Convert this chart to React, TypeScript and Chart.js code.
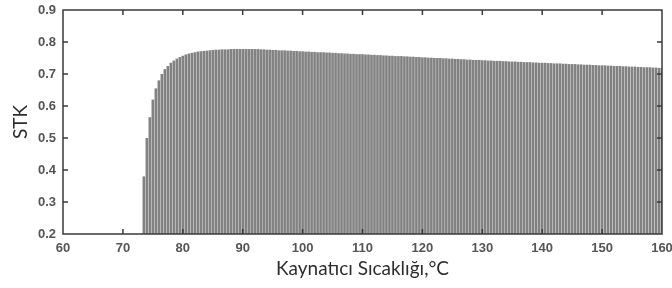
import React, { useEffect, useRef } from "react";
import { Chart, registerables } from "chart.js";

Chart.register(...registerables);

const temps: number[] = [
  73.5, 74, 74.5, 75, 75.5, 76, 76.5, 77, 77.5, 78, 78.5, 79, 79.5, 80, 80.5, 81, 81.5, 82, 82.5, 83,
  83.5, 84, 84.5, 85, 85.5, 86, 86.5, 87, 87.5, 88, 88.5, 89, 89.5, 90, 90.5, 91, 91.5, 92, 92.5, 93,
  93.5, 94, 94.5, 95, 95.5, 96, 96.5, 97, 97.5, 98, 98.5, 99, 99.5, 100, 100.5, 101, 101.5, 102, 102.5, 103,
  103.5, 104, 104.5, 105, 105.5, 106, 106.5, 107, 107.5, 108, 108.5, 109, 109.5, 110, 110.5, 111, 111.5, 112, 112.5, 113,
  113.5, 114, 114.5, 115, 115.5, 116, 116.5, 117, 117.5, 118, 118.5, 119, 119.5, 120, 120.5, 121, 121.5, 122, 122.5, 123,
  123.5, 124, 124.5, 125, 125.5, 126, 126.5, 127, 127.5, 128, 128.5, 129, 129.5, 130, 130.5, 131, 131.5, 132, 132.5, 133,
  133.5, 134, 134.5, 135, 135.5, 136, 136.5, 137, 137.5, 138, 138.5, 139, 139.5, 140, 140.5, 141, 141.5, 142, 142.5, 143,
  143.5, 144, 144.5, 145, 145.5, 146, 146.5, 147, 147.5, 148, 148.5, 149, 149.5, 150, 150.5, 151, 151.5, 152, 152.5, 153,
  153.5, 154, 154.5, 155, 155.5, 156, 156.5, 157, 157.5, 158, 158.5, 159, 159.5, 160,
];

const stk: number[] = [
  0.38, 0.5, 0.565, 0.62, 0.655, 0.68, 0.7, 0.715, 0.725, 0.735, 0.742, 0.748, 0.753, 0.757, 0.761, 0.764, 0.766, 0.768, 0.77, 0.771,
  0.772, 0.773, 0.774, 0.775, 0.776, 0.776, 0.777, 0.777, 0.777, 0.778, 0.778, 0.778, 0.778, 0.778, 0.778, 0.778, 0.778, 0.778, 0.778, 0.777,
  0.777, 0.776, 0.776, 0.775, 0.775, 0.774, 0.774, 0.774, 0.773, 0.773, 0.772, 0.772, 0.771, 0.771, 0.77, 0.77, 0.769, 0.769, 0.768, 0.768,
  0.768, 0.767, 0.767, 0.766, 0.766, 0.765, 0.765, 0.764, 0.764, 0.763, 0.763, 0.762, 0.762, 0.762, 0.761, 0.761, 0.76, 0.76, 0.759, 0.759,
  0.758, 0.758, 0.757, 0.757, 0.756, 0.756, 0.756, 0.755, 0.755, 0.754, 0.754, 0.753, 0.753, 0.752, 0.752, 0.751, 0.751, 0.75, 0.75, 0.75,
  0.749, 0.749, 0.748, 0.748, 0.747, 0.747, 0.746, 0.746, 0.745, 0.745, 0.744, 0.744, 0.744, 0.743, 0.743, 0.742, 0.742, 0.741, 0.741, 0.741,
  0.74, 0.74, 0.739, 0.739, 0.739, 0.738, 0.738, 0.737, 0.737, 0.737, 0.736, 0.736, 0.735, 0.735, 0.735, 0.734, 0.734, 0.733, 0.733, 0.733,
  0.732, 0.732, 0.731, 0.731, 0.731, 0.73, 0.73, 0.729, 0.729, 0.729, 0.728, 0.728, 0.727, 0.727, 0.727, 0.726, 0.726, 0.725, 0.725, 0.725,
  0.724, 0.724, 0.723, 0.723, 0.723, 0.722, 0.722, 0.721, 0.721, 0.721, 0.72, 0.72, 0.719, 0.719,
];

const xTicks: number[] = [60, 70, 80, 90, 100, 110, 120, 130, 140, 150, 160];
const yTicks: number[] = [0.2, 0.3, 0.4, 0.5, 0.6, 0.7, 0.8, 0.9];

const xTitle = "Kaynatıcı Sıcaklığı,°C";
const yTitle = "STK";

const boxPlugin = {
  id: "boxTicks",
  afterDatasetsDraw(chart: any) {
    const { ctx, chartArea: a, scales } = chart;
    const L = 5;
    ctx.save();
    ctx.strokeStyle = "#3a3a3a";
    ctx.lineWidth = 1.5;
    ctx.strokeRect(a.left, a.top, a.right - a.left, a.bottom - a.top);
    ctx.beginPath();
    xTicks.forEach((v) => {
      if (v === 60 || v === 160) return;
      const px = scales.x.getPixelForValue(v);
      ctx.moveTo(px, a.bottom);
      ctx.lineTo(px, a.bottom - L);
      ctx.moveTo(px, a.top);
      ctx.lineTo(px, a.top + L);
    });
    yTicks.forEach((v) => {
      if (v === 0.2 || v === 0.9) return;
      const py = scales.y.getPixelForValue(v);
      ctx.moveTo(a.left, py);
      ctx.lineTo(a.left + L, py);
      ctx.moveTo(a.right, py);
      ctx.lineTo(a.right - L, py);
    });
    ctx.stroke();
    ctx.restore();
  },
};

export default function App() {
  const ref = useRef<HTMLCanvasElement>(null);
  useEffect(() => {
    document.body.style.margin = "0";
    const chart = new Chart(ref.current!, {
      type: "bar",
      data: {
        datasets: [
          {
            data: temps.map((t, i) => ({ x: t, y: stk[i] })),
            backgroundColor: "#828282",
            borderWidth: 0,
            barPercentage: 0.88,
            categoryPercentage: 1,
          },
        ],
      },
      options: {
        animation: false,
        responsive: false,
        maintainAspectRatio: false,
        layout: { padding: { top: 10, right: 10, left: 0, bottom: 0 } },
        plugins: { legend: { display: false }, tooltip: { enabled: false } },
        scales: {
          x: {
            type: "linear",
            min: 60,
            max: 160,
            offset: false,
            afterBuildTicks: (s: any) => {
              s.ticks = xTicks.map((v) => ({ value: v }));
            },
            afterFit: (s: any) => {
              s.height = 54;
              s.paddingLeft = 0;
              s.paddingRight = 0;
            },
            grid: { display: false, drawTicks: false },
            border: { display: false },
            ticks: {
              padding: 7,
              color: "#555",
              font: { family: "Liberation Sans", size: 13, weight: "bold" },
              maxRotation: 0,
              autoSkip: false,
            },
            title: {
              display: true,
              text: xTitle,
              color: "#2e2e2e",
              font: { family: "Lato", size: 19 },
              padding: { top: 0, bottom: 8 },
            },
          },
          y: {
            min: 0.2,
            max: 0.9,
            afterBuildTicks: (s: any) => {
              s.ticks = yTicks.map((v) => ({ value: v }));
            },
            afterFit: (s: any) => {
              s.width = 63;
              s.paddingTop = 0;
              s.paddingBottom = 0;
            },
            grid: { display: false, drawTicks: false },
            border: { display: false },
            ticks: {
              padding: 7,
              color: "#555",
              font: { family: "Liberation Sans", size: 13, weight: "bold" },
              callback: (v: any) => Number(v).toFixed(1),
            },
            title: {
              display: true,
              text: yTitle,
              color: "#2e2e2e",
              font: { family: "Lato", size: 19 },
              padding: { top: 9, bottom: 0 },
            },
          },
        },
      },
      plugins: [boxPlugin],
    });
    return () => chart.destroy();
  }, []);
  return (
    <div style={{ width: 672, height: 288, background: "#fff" }}>
      <canvas ref={ref} width={672} height={288} style={{ display: "block" }} />
    </div>
  );
}
